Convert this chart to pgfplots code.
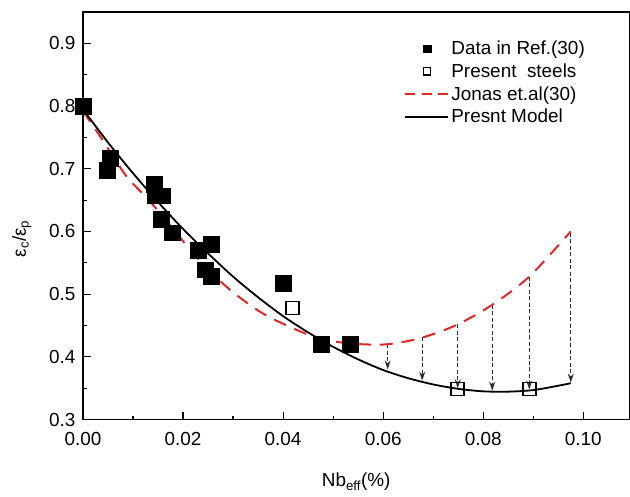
\documentclass[border=0pt]{standalone}
\usepackage{fontspec}
\setmainfont{Liberation Sans}
\usepackage{pgfplots}
\pgfplotsset{compat=1.18}
\usetikzlibrary{arrows.meta}
\definecolor{jred}{RGB}{222,40,40}
\definecolor{arr}{RGB}{45,45,45}
\begin{document}
\begin{tikzpicture}
\begin{axis}[
  scale only axis, width=547bp, height=408bp,
  xmin=0, xmax=0.1092, ymin=0.3, ymax=0.95,
  xtick={0,0.02,0.04,0.06,0.08,0.10},
  ytick={0.3,0.4,0.5,0.6,0.7,0.8,0.9},
  minor x tick num=1, minor y tick num=1,
  tick align=inside, xtick pos=bottom, ytick pos=left,
  major tick length=8bp, minor tick length=4bp,
  axis line style={line width=1.3bp}, tick style={line width=1.1bp, black},
  /pgf/number format/assume math mode=true,
  xticklabel style={/pgf/number format/fixed, /pgf/number format/fixed zerofill, /pgf/number format/precision=2, yshift=-9bp},
  yticklabel style={/pgf/number format/fixed, /pgf/number format/fixed zerofill, /pgf/number format/precision=1, xshift=-4bp},
  scaled x ticks=false,
  ticklabel style={font=\fontsize{19}{22}\selectfont},
  xlabel={Nb\textsubscript{eff}(\%)},
  ylabel={ε\textsubscript{c}/ε\textsubscript{p}},
  label style={font=\fontsize{19}{22}\selectfont},
  xlabel style={yshift=-21bp},
  ylabel style={yshift=11bp, xshift=-23bp},
  legend style={draw=none, fill=none, at={(0.588,0.934)}, anchor=north west,
    font=\fontsize{19}{22}\selectfont, row sep=3.5bp, inner sep=0pt},
  legend cell align=left,
  clip=false,
]
\addlegendimage{legend image code/.code={\fill[black] (18bp,-3.7bp) rectangle (25.4bp,3.7bp);}}
\addlegendentry{Data in Ref.(30)}
\addlegendimage{legend image code/.code={\draw[black,line width=1.1bp] (18bp,-3.7bp) rectangle (25.4bp,3.7bp);}}
\addlegendentry{Present\ \ steels}
\addlegendimage{legend image code/.code={\draw[jred,line width=2bp,dash pattern=on 10bp off 6.5bp] (0,0) -- (43bp,0);}}
\addlegendentry{Jonas et.al(30)}
\addlegendimage{legend image code/.code={\draw[black,line width=1.8bp] (0,0) -- (43bp,0);}}
\addlegendentry{Presnt Model}

% arrows
\addplot[forget plot, arr, line width=1bp, dash pattern=on 4bp off 2.5bp, -{Stealth[length=9bp,width=6bp]}] coordinates {(0.0609,0.420) (0.0609,0.380)};
\addplot[forget plot, arr, line width=1bp, dash pattern=on 4bp off 2.5bp, -{Stealth[length=9bp,width=6bp]}] coordinates {(0.0678,0.431) (0.0678,0.362)};
\addplot[forget plot, arr, line width=1bp, dash pattern=on 4bp off 2.5bp, -{Stealth[length=9bp,width=6bp]}] coordinates {(0.0749,0.452) (0.0749,0.350)};
\addplot[forget plot, arr, line width=1bp, dash pattern=on 4bp off 2.5bp, -{Stealth[length=9bp,width=6bp]}] coordinates {(0.0818,0.483) (0.0818,0.346)};
\addplot[forget plot, arr, line width=1bp, dash pattern=on 4bp off 2.5bp, -{Stealth[length=9bp,width=6bp]}] coordinates {(0.0892,0.528) (0.0892,0.348)};
\addplot[forget plot, arr, line width=1bp, dash pattern=on 4bp off 2.5bp, -{Stealth[length=9bp,width=6bp]}] coordinates {(0.0975,0.598) (0.0975,0.359)};

% Jonas
\addplot[forget plot, jred, line width=2bp, dash pattern=on 13bp off 9bp, smooth] coordinates {
(0,0.792) (0.004,0.745) (0.0087,0.688) (0.0134,0.648) (0.0208,0.577) (0.0248,0.541)
(0.03,0.503) (0.036,0.469) (0.0427,0.443) (0.0479,0.428) (0.054,0.421) (0.0607,0.420)
(0.0675,0.430) (0.0747,0.451) (0.0818,0.483) (0.0892,0.528) (0.0975,0.600)};

% Model
\addplot[forget plot, black, line width=1.8bp, smooth] coordinates {
(0,0.795) (0.005,0.742) (0.01,0.693) (0.015,0.647) (0.02,0.604) (0.025,0.565)
(0.03,0.528) (0.035,0.495) (0.04,0.465) (0.045,0.439) (0.05,0.416) (0.055,0.396)
(0.06,0.379) (0.065,0.366) (0.07,0.356) (0.075,0.349) (0.08,0.345) (0.085,0.3445)
(0.09,0.347) (0.095,0.354) (0.0975,0.358)};

% Data in Ref
\addplot[forget plot, only marks, mark=square*, mark size=8bp, black] coordinates {
(0.0,0.80) (0.0048,0.698) (0.0054,0.717) (0.0142,0.675) (0.0144,0.657) (0.0158,0.657)
(0.0156,0.62) (0.0178,0.598) (0.023,0.57) (0.0244,0.539) (0.0257,0.529) (0.0257,0.58)
(0.040,0.518) (0.0477,0.42) (0.0535,0.42)};

% Present steels
\addplot[forget plot, only marks, mark=square, mark size=6.5bp, black, mark options={line width=1.6bp, fill=white}] coordinates {
(0.0419,0.478) (0.0749,0.349) (0.0892,0.349)};
\end{axis}
\path ([xshift=-83bp,yshift=-77bp]current axis.south west) rectangle ([yshift=12bp]current axis.north east);
\end{tikzpicture}
\end{document}
